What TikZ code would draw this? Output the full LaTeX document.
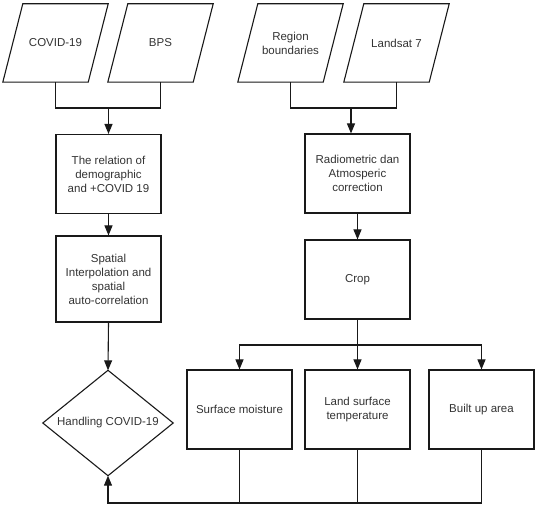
\documentclass[tikz,border=0pt]{standalone}
\usepackage{fontspec}
\setmainfont{Liberation Sans}
\usetikzlibrary{arrows.meta}
\begin{document}
\begin{tikzpicture}[x=1pt,y=-1pt,
  every node/.style={font=\fontsize{11.5}{14}\selectfont, text=black!80, align=center, inner sep=0pt},
  line/.style={draw=black!90, line width=1.1pt},
  arr/.style={line, -{Triangle[length=10pt,width=8pt]}},
  para/.style={minimum width=85pt, minimum height=78pt},
  box/.style={line, minimum width=105pt, minimum height=79pt},
  dia/.style={minimum width=130pt, minimum height=105pt}]
\useasboundingbox (0,0) rectangle (539,510);
% input parallelograms
\node[para] (covid) at (55.5,43) {COVID-19};
\node[para] (bps) at (160.5,43) {BPS};
\node[para] (region) at (290.5,43) {Region\\boundaries};
\node[para] (landsat) at (396.5,43) {Landsat 7};
\foreach \n in {covid,bps,region,landsat}{
  \draw[line, line join=miter] ([xshift=-10pt]\n.south west) -- ([xshift=-10pt]\n.south east)
    -- ([xshift=10pt]\n.north east) -- ([xshift=10pt]\n.north west) -- cycle;
}
% process boxes
\node[box] (rel) at (108.5,174) {The relation of\\demographic\\and +COVID 19};
\node[box, minimum height=86pt] (spat) at (108.5,279) {Spatial\\Interpolation and\\spatial\\auto-correlation};
\node[box] (rad) at (357.5,173.5) {Radiometric dan\\Atmosperic\\correction};
\node[box] (crop) at (357.5,279.5) {Crop};
\node[box] (sm) at (239.5,409.5) {Surface moisture};
\node[box] (lst) at (357.5,409.5) {Land surface\\temperature};
\node[box] (bua) at (481.5,409.5) {Built up area};
% decision
\node[dia] (hand) at (108,423) {Handling COVID-19};
\draw[line, line join=miter] (hand.north) -- (hand.east) -- (hand.south) -- (hand.west) -- cycle;
% junctions
\coordinate (j1) at (108.5,108);
\coordinate (j2) at (351,108);
\coordinate (j3) at (357.5,345);
\coordinate (j4) at (108,503);
% connectors
\draw[line] (covid.south) |- (j1) -| (bps.south);
\draw[arr] (j1) -- (rel.north);
\draw[line] (region.south) |- (j2) -| (landsat.south);
\draw[arr] (j2) -- (j2 |- rad.north);
\draw[arr] (rel.south) -- (spat.north);
\draw[arr] (spat.south) -- (hand.north);
\draw[arr] (rad.south) -- (crop.north);
\draw[line] (crop.south) -- (j3);
\draw[arr] (j3) -| (sm.north);
\draw[arr] (j3) -| (bua.north);
\draw[arr] (j3) -- (lst.north);
\draw[line] (sm.south) -- (sm.south |- j4);
\draw[line] (lst.south) -- (lst.south |- j4);
\draw[arr] (bua.south) |- (j4) -- (hand.south);
\end{tikzpicture}
\end{document}
